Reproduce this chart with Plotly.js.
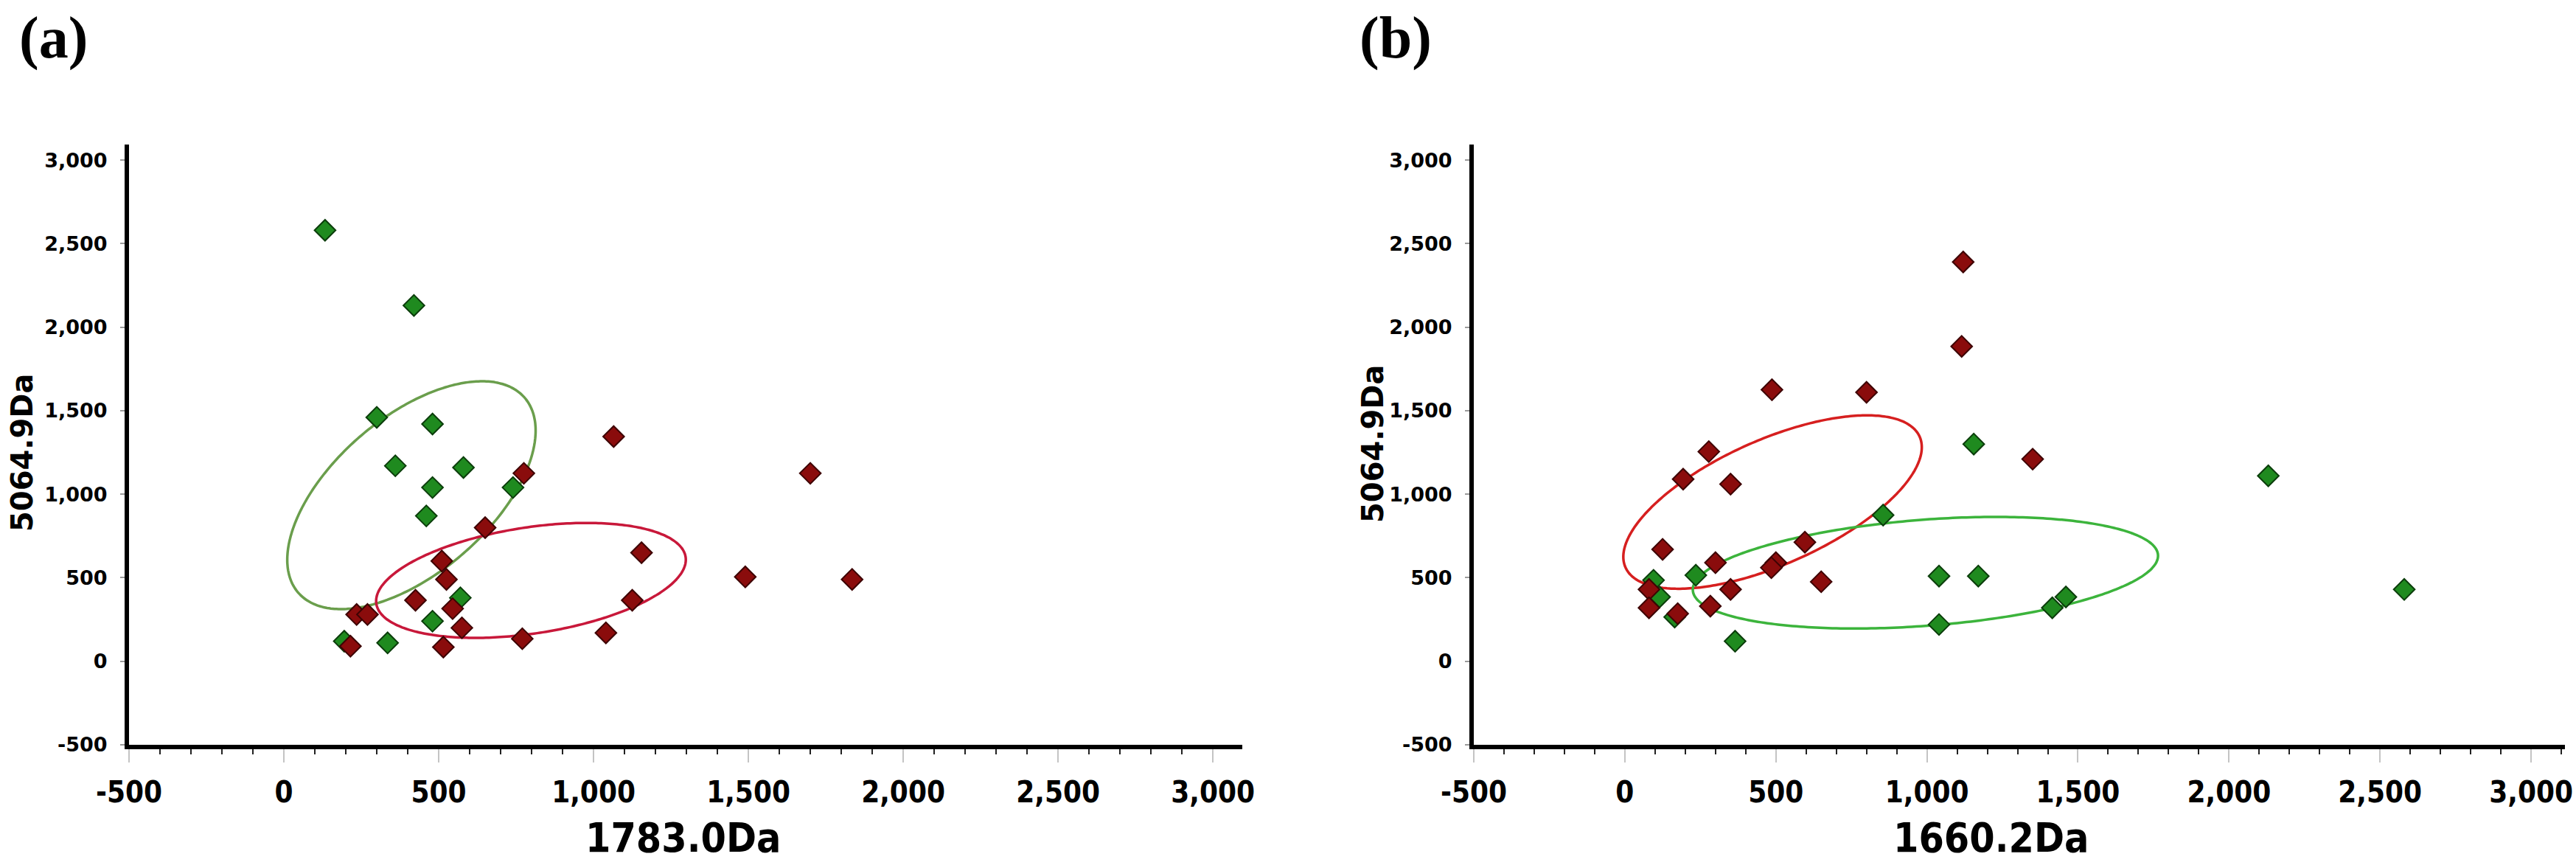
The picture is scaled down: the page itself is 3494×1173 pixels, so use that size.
<!DOCTYPE html>
<html>
<head>
<meta charset="utf-8">
<script src="https://cdn.plot.ly/plotly-3.0.1.min.js"></script>
<style>
html,body{margin:0;padding:0;background:#fff;}
#chart{width:3494px;height:1173px;}
</style>
</head>
<body>
<div id="chart"></div>
<script>
// ---------- Data ----------
// Panel (a): x = 1783.0Da, y = 5064.9Da
const aGreenX = [133, 420, 300, 480, 360, 580, 480, 740, 460, 570, 480, 195, 335];
const aGreenY = [2580, 2130, 1460, 1420, 1170, 1160, 1040, 1040, 870, 380, 240, 120, 110];
const aRedX = [1065, 775, 1700, 650, 1155, 510, 525, 1490, 1835, 425, 1125, 545, 235, 270, 575, 770, 1040, 515, 215];
const aRedY = [1345, 1125, 1125, 800, 650, 600, 490, 505, 490, 365, 365, 315, 280, 280, 200, 135, 170, 85, 90];

// Panel (b): x = 1660.2Da, y = 5064.9Da
const bGreenX = [2130, 1155, 2580, 855, 1040, 1170, 1040, 1460, 1415, 235, 95, 115, 165, 365];
const bGreenY = [1110, 1300, 430, 875, 510, 510, 220, 385, 320, 515, 485, 385, 265, 120];
const bRedX = [1120, 1115, 487, 800, 1350, 278, 193, 350, 125, 596, 300, 500, 485, 650, 80, 350, 80, 283, 175];
const bRedY = [2390, 1885, 1625, 1610, 1210, 1255, 1090, 1060, 670, 713, 590, 590, 560, 476, 430, 430, 320, 330, 285];

// Ellipse parameters: [centerX, centerY, halfWidthX, halfHeightY, tilt phase]
const aGreenEllipse = [412, 994, 401, 682, 0.603];
const aRedEllipse   = [798, 484, 500, 344, 0.368];
const bRedEllipse   = [489, 953, 494, 519, 0.684];
const bGreenEllipse = [995, 530, 770, 334, 0.308];

// Tick labels
const tickVals = [-500, 0, 500, 1000, 1500, 2000, 2500, 3000];
const tickText = ['-500', '0', '500', '1,000', '1,500', '2,000', '2,500', '3,000'];

// Titles
const xTitleA = '1783.0Da';
const xTitleB = '1660.2Da';
const yTitle = '5064.9Da';
const panelLabels = ['(a)', '(b)'];

// ---------- Helpers ----------
function ellipse(p) {
  const xs = [], ys = [];
  const n = 160;
  for (let i = 0; i <= n; i++) {
    const t = 2 * Math.PI * i / n;
    xs.push(p[0] + p[2] * Math.cos(t));
    ys.push(p[1] + p[3] * Math.sin(t + p[4]));
  }
  return {x: xs, y: ys};
}

const GREEN = '#1f8a1f', GREEN_LINE = '#0b3d0b';
const RED = '#8a0c0c', RED_LINE = '#3d0303';

function pts(x, y, fill, edge, xa, ya) {
  return {type: 'scatter', mode: 'markers', x: x, y: y, xaxis: xa, yaxis: ya,
    marker: {symbol: 'diamond', size: 22, color: fill, line: {color: edge, width: 2}},
    hoverinfo: 'x+y', showlegend: false};
}
function ell(p, color, xa, ya) {
  const e = ellipse(p);
  return {type: 'scatter', mode: 'lines', x: e.x, y: e.y, xaxis: xa, yaxis: ya,
    line: {color: color, width: 3.5, shape: 'spline', smoothing: 0.3},
    hoverinfo: 'skip', showlegend: false};
}

const traces = [
  ell(aGreenEllipse, '#6a9e4c', 'x', 'y'),
  ell(aRedEllipse, '#c8183a', 'x', 'y'),
  pts(aGreenX, aGreenY, GREEN, GREEN_LINE, 'x', 'y'),
  pts(aRedX, aRedY, RED, RED_LINE, 'x', 'y'),
  ell(bRedEllipse, '#d61f1f', 'x2', 'y2'),
  ell(bGreenEllipse, '#3cb43c', 'x2', 'y2'),
  pts(bGreenX, bGreenY, GREEN, GREEN_LINE, 'x2', 'y2'),
  pts(bRedX, bRedY, RED, RED_LINE, 'x2', 'y2')
];

const W = 3494, H = 1173;
const yDomain = [1 - 1010 / H, 1 - 196 / H];

function xAxis(domain, range, anchor) {
  return {
    domain: domain, range: range, anchor: anchor,
    showline: true, linecolor: '#000', linewidth: 6,
    zeroline: false, showgrid: false,
    tickmode: 'array', tickvals: tickVals, ticktext: tickText,
    ticks: 'outside', ticklen: 18, tickwidth: 2, tickcolor: '#c4c4c4',
    ticklabelstandoff: 6,
    tickfont: {family: '"Liberation Sans Narrow", "DejaVu Sans Condensed", sans-serif', size: 40, color: '#000', weight: 700},
    minor: {tickmode: 'linear', tick0: -500, dtick: 100, ticks: 'outside', ticklen: 7, tickwidth: 2, tickcolor: '#222', showgrid: false},
    fixedrange: true
  };
}
function yAxis(anchor) {
  return {
    domain: yDomain, range: [-500, 3093], anchor: anchor,
    showline: true, linecolor: '#000', linewidth: 6,
    zeroline: false, showgrid: false,
    tickmode: 'array', tickvals: tickVals, ticktext: tickText,
    ticks: 'outside', ticklen: 6, tickwidth: 2, tickcolor: '#9a9a9a',
    ticklabelstandoff: 12,
    tickfont: {family: '"DejaVu Sans", Verdana, sans-serif', size: 27, color: '#000', weight: 700},
    fixedrange: true
  };
}

const layout = {
  width: W, height: H,
  margin: {l: 0, r: 0, t: 0, b: 0},
  paper_bgcolor: '#fff', plot_bgcolor: '#fff',
  showlegend: false,
  xaxis: xAxis([175 / W, 1685 / W], [-500, 3095], 'y'),
  yaxis: yAxis('x'),
  xaxis2: xAxis([1999 / W, 3479 / W], [-500, 3112], 'y2'),
  yaxis2: yAxis('x2'),
  annotations: [
    {text: xTitleA, xref: 'paper', yref: 'paper', x: 926 / W, y: 1 - 1136 / H, xanchor: 'center', yanchor: 'middle', showarrow: false,
     font: {family: '"Liberation Sans Narrow", "DejaVu Sans Condensed", sans-serif', size: 55, color: '#000', weight: 700}},
    {text: xTitleB, xref: 'paper', yref: 'paper', x: 2700 / W, y: 1 - 1136 / H, xanchor: 'center', yanchor: 'middle', showarrow: false,
     font: {family: '"Liberation Sans Narrow", "DejaVu Sans Condensed", sans-serif', size: 55, color: '#000', weight: 700}},
    {text: yTitle, xref: 'paper', yref: 'paper', x: 30 / W, y: 1 - 614 / H, xanchor: 'center', yanchor: 'middle', textangle: -90, showarrow: false,
     font: {family: '"DejaVu Sans", Verdana, sans-serif', size: 40, color: '#000', weight: 700}},
    {text: yTitle, xref: 'paper', yref: 'paper', x: 1862 / W, y: 1 - 602 / H, xanchor: 'center', yanchor: 'middle', textangle: -90, showarrow: false,
     font: {family: '"DejaVu Sans", Verdana, sans-serif', size: 40, color: '#000', weight: 700}},
    {text: panelLabels[0], xref: 'paper', yref: 'paper', x: 24 / W, y: 1 - 52 / H, xanchor: 'left', yanchor: 'middle', showarrow: false,
     font: {family: '"Liberation Serif", "DejaVu Serif", serif', size: 80, color: '#000', weight: 700}},
    {text: panelLabels[1], xref: 'paper', yref: 'paper', x: 1842 / W, y: 1 - 52 / H, xanchor: 'left', yanchor: 'middle', showarrow: false,
     font: {family: '"Liberation Serif", "DejaVu Serif", serif', size: 80, color: '#000', weight: 700}}
  ]
};

Plotly.newPlot('chart', traces, layout, {displayModeBar: false, staticPlot: true});
</script>
</body>
</html>
